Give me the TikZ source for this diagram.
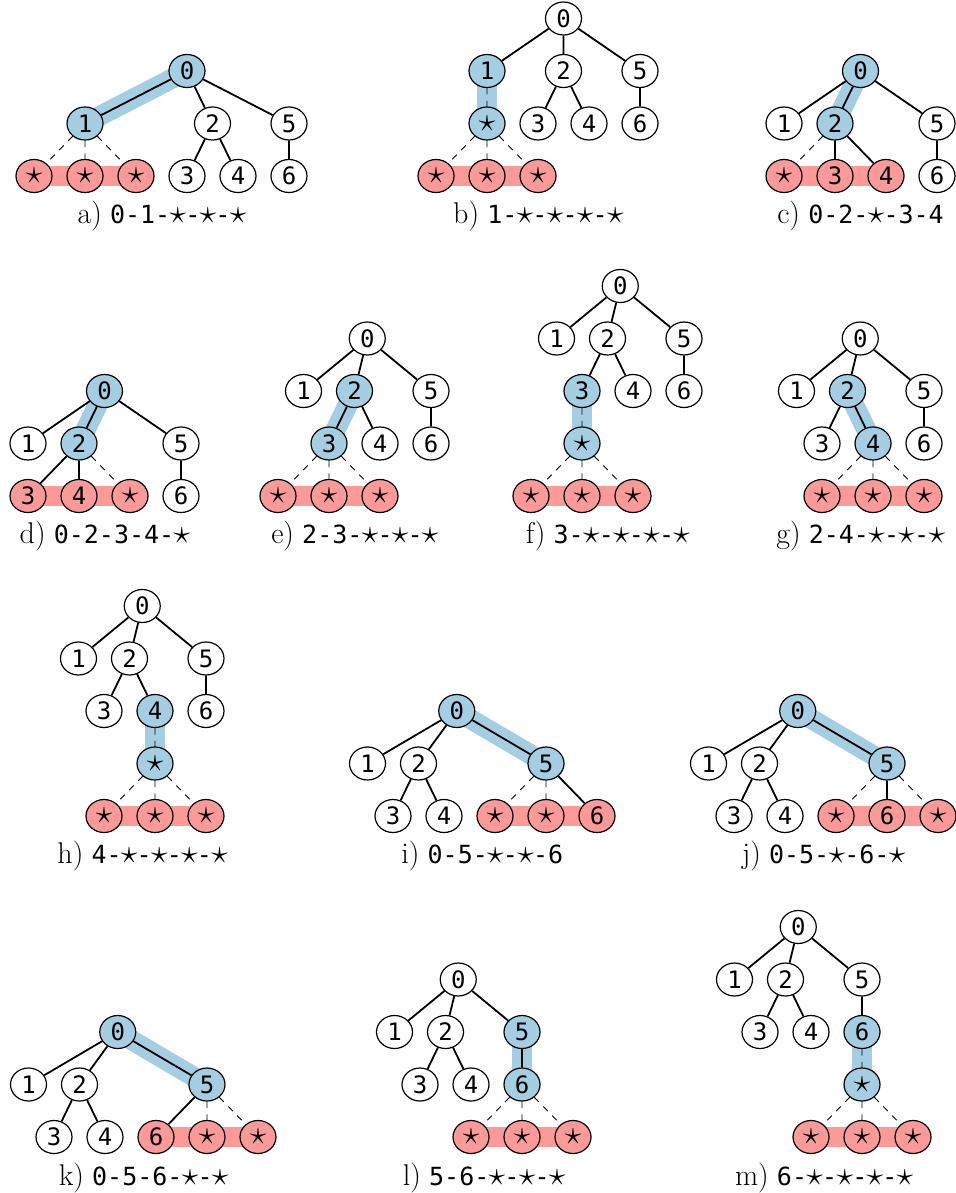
\documentclass[tikz,border=0pt]{standalone}
\usepackage{graphicx}
\usepackage{fontspec}
\setmonofont{DejaVu Sans Mono}
\usetikzlibrary{shapes.geometric}

\definecolor{hlblue}{HTML}{A6CEE3}
\definecolor{hlred}{HTML}{FB9A99}

\newcommand{\nodestar}{\scalebox{1.4}{$\star$}}
\newcommand{\cellstar}{\makebox[0.602em]{\scalebox{1.4}{$\star$}}}
\newcommand{\caplabel}[2]{{\fontsize{15}{18}\selectfont #1)}~\texttt{#2}}

\pgfdeclarelayer{bands}
\pgfdeclarelayer{links}
\pgfsetlayers{bands,links,main}

\tikzset{
  nd/.style={ellipse, draw, line width=0.6pt, minimum width=18pt,
    minimum height=16.5pt, inner sep=0pt, fill=white,
    font=\ttfamily\fontsize{12}{14}\selectfont},
  bn/.style={nd, fill=hlblue},
  rn/.style={nd, fill=hlred},
  tr/.style={line width=0.9pt},
  dl/.style={line width=0.45pt, dash pattern=on 3.2pt off 3.2pt},
  bb/.style={line width=10pt, hlblue},
  rb/.style={line width=10pt, hlred},
  captxt/.style={anchor=base, inner sep=0pt, font=\fontsize{12.5}{15}\selectfont},
}

\begin{document}
\begin{tikzpicture}[x=1pt,y=1pt]
\useasboundingbox (0,0) rectangle (477.5,-596.5);

% ---------- a) ----------
\begin{scope}[shift={(17pt,-88pt)},x=12.75pt,y=26.25pt]
\node[bn] (a0) at (6,2) {0};
\node[bn] (a1) at (2,1) {1};
\node[nd] (a2) at (7,1) {2};
\node[nd] (a5) at (10,1) {5};
\node[rn] (aP) at (0,0) {\nodestar};
\node[rn] (aQ) at (2,0) {\nodestar};
\node[rn] (aR) at (4,0) {\nodestar};
\node[nd] (a3) at (6,0) {3};
\node[nd] (a4) at (8,0) {4};
\node[nd] (a6) at (10,0) {6};
\node[captxt] (acap) at (5,-0.914) {\caplabel{a}{0-1-\cellstar-\cellstar-\cellstar}};
\begin{pgfonlayer}{bands}
\draw[bb] (a0.center) -- (a1.center);
\draw[rb] (aP.center) -- (aR.center);
\end{pgfonlayer}
\begin{pgfonlayer}{links}
\draw[tr] (a0) -- (a1) (a0) -- (a2) (a0) -- (a5) (a2) -- (a3) (a2) -- (a4) (a5) -- (a6);
\draw[dl] (a1) -- (aP) (a1) -- (aQ) (a1) -- (aR);
\end{pgfonlayer}
\end{scope}

% ---------- b) ----------
\begin{scope}[shift={(218pt,-88pt)},x=12.75pt,y=26.25pt]
\node[nd] (b0) at (5,3) {0};
\node[bn] (b1) at (2,2) {1};
\node[nd] (b2) at (5,2) {2};
\node[nd] (b5) at (8,2) {5};
\node[bn] (bX) at (2,1) {\nodestar};
\node[nd] (b3) at (4,1) {3};
\node[nd] (b4) at (6,1) {4};
\node[nd] (b6) at (8,1) {6};
\node[rn] (bP) at (0,0) {\nodestar};
\node[rn] (bQ) at (2,0) {\nodestar};
\node[rn] (bR) at (4,0) {\nodestar};
\node[captxt] (bcap) at (4,-0.914) {\caplabel{b}{1-\cellstar-\cellstar-\cellstar-\cellstar}};
\begin{pgfonlayer}{bands}
\draw[bb] (b1.center) -- (bX.center);
\draw[rb] (bP.center) -- (bR.center);
\end{pgfonlayer}
\begin{pgfonlayer}{links}
\draw[tr] (b0) -- (b1) (b0) -- (b2) (b0) -- (b5) (b2) -- (b3) (b2) -- (b4) (b5) -- (b6);
\draw[dl] (b1) -- (bX) (bX) -- (bP) (bX) -- (bQ) (bX) -- (bR);
\end{pgfonlayer}
\end{scope}

% ---------- c) ----------
\begin{scope}[shift={(392pt,-88pt)},x=12.75pt,y=26.25pt]
\node[bn] (c0) at (3,2) {0};
\node[nd] (c1) at (0,1) {1};
\node[bn] (c2) at (2,1) {2};
\node[nd] (c5) at (6,1) {5};
\node[rn] (cP) at (0,0) {\nodestar};
\node[rn] (c3) at (2,0) {3};
\node[rn] (c4) at (4,0) {4};
\node[nd] (c6) at (6,0) {6};
\node[captxt] (ccap) at (3,-0.914) {\caplabel{c}{0-2-\cellstar-3-4}};
\begin{pgfonlayer}{bands}
\draw[bb] (c0.center) -- (c2.center);
\draw[rb] (cP.center) -- (c4.center);
\end{pgfonlayer}
\begin{pgfonlayer}{links}
\draw[tr] (c0) -- (c1) (c0) -- (c2) (c0) -- (c5) (c2) -- (c3) (c2) -- (c4) (c5) -- (c6);
\draw[dl] (c2) -- (cP);
\end{pgfonlayer}
\end{scope}

% ---------- d) ----------
\begin{scope}[shift={(14pt,-248pt)},x=12.75pt,y=26.25pt]
\node[bn] (d0) at (3,2) {0};
\node[nd] (d1) at (0,1) {1};
\node[bn] (d2) at (2,1) {2};
\node[nd] (d5) at (6,1) {5};
\node[rn] (d3) at (0,0) {3};
\node[rn] (d4) at (2,0) {4};
\node[rn] (dP) at (4,0) {\nodestar};
\node[nd] (d6) at (6,0) {6};
\node[captxt] (dcap) at (3,-0.914) {\caplabel{d}{0-2-3-4-\cellstar}};
\begin{pgfonlayer}{bands}
\draw[bb] (d0.center) -- (d2.center);
\draw[rb] (d3.center) -- (dP.center);
\end{pgfonlayer}
\begin{pgfonlayer}{links}
\draw[tr] (d0) -- (d1) (d0) -- (d2) (d0) -- (d5) (d2) -- (d3) (d2) -- (d4) (d5) -- (d6);
\draw[dl] (d2) -- (dP);
\end{pgfonlayer}
\end{scope}

% ---------- e) ----------
\begin{scope}[shift={(139pt,-248pt)},x=12.75pt,y=26.25pt]
\node[nd] (e0) at (3.5,3) {0};
\node[nd] (e1) at (1,2) {1};
\node[bn] (e2) at (3,2) {2};
\node[nd] (e5) at (6,2) {5};
\node[bn] (e3) at (2,1) {3};
\node[nd] (e4) at (4,1) {4};
\node[nd] (e6) at (6,1) {6};
\node[rn] (eP) at (0,0) {\nodestar};
\node[rn] (eQ) at (2,0) {\nodestar};
\node[rn] (eR) at (4,0) {\nodestar};
\node[captxt] (ecap) at (3,-0.914) {\caplabel{e}{2-3-\cellstar-\cellstar-\cellstar}};
\begin{pgfonlayer}{bands}
\draw[bb] (e2.center) -- (e3.center);
\draw[rb] (eP.center) -- (eR.center);
\end{pgfonlayer}
\begin{pgfonlayer}{links}
\draw[tr] (e0) -- (e1) (e0) -- (e2) (e0) -- (e5) (e2) -- (e3) (e2) -- (e4) (e5) -- (e6);
\draw[dl] (e3) -- (eP) (e3) -- (eQ) (e3) -- (eR);
\end{pgfonlayer}
\end{scope}

% ---------- f) ----------
\begin{scope}[shift={(265.5pt,-248pt)},x=12.75pt,y=26.25pt]
\node[nd] (f0) at (3.5,4) {0};
\node[nd] (f1) at (1,3) {1};
\node[nd] (f2) at (3,3) {2};
\node[nd] (f5) at (6,3) {5};
\node[bn] (f3) at (2,2) {3};
\node[nd] (f4) at (4,2) {4};
\node[nd] (f6) at (6,2) {6};
\node[bn] (fX) at (2,1) {\nodestar};
\node[rn] (fP) at (0,0) {\nodestar};
\node[rn] (fQ) at (2,0) {\nodestar};
\node[rn] (fR) at (4,0) {\nodestar};
\node[captxt] (fcap) at (3,-0.914) {\caplabel{f}{3-\cellstar-\cellstar-\cellstar-\cellstar}};
\begin{pgfonlayer}{bands}
\draw[bb] (f3.center) -- (fX.center);
\draw[rb] (fP.center) -- (fR.center);
\end{pgfonlayer}
\begin{pgfonlayer}{links}
\draw[tr] (f0) -- (f1) (f0) -- (f2) (f0) -- (f5) (f2) -- (f3) (f2) -- (f4) (f5) -- (f6);
\draw[dl] (f3) -- (fX) (fX) -- (fP) (fX) -- (fQ) (fX) -- (fR);
\end{pgfonlayer}
\end{scope}

% ---------- g) ----------
\begin{scope}[shift={(411pt,-248pt)},x=12.75pt,y=26.25pt]
\node[nd] (g0) at (1.5,3) {0};
\node[nd] (g1) at (-1,2) {1};
\node[bn] (g2) at (1,2) {2};
\node[nd] (g5) at (4,2) {5};
\node[nd] (g3) at (0,1) {3};
\node[bn] (g4) at (2,1) {4};
\node[nd] (g6) at (4,1) {6};
\node[rn] (gP) at (0,0) {\nodestar};
\node[rn] (gQ) at (2,0) {\nodestar};
\node[rn] (gR) at (4,0) {\nodestar};
\node[captxt] (gcap) at (1.5,-0.914) {\caplabel{g}{2-4-\cellstar-\cellstar-\cellstar}};
\begin{pgfonlayer}{bands}
\draw[bb] (g2.center) -- (g4.center);
\draw[rb] (gP.center) -- (gR.center);
\end{pgfonlayer}
\begin{pgfonlayer}{links}
\draw[tr] (g0) -- (g1) (g0) -- (g2) (g0) -- (g5) (g2) -- (g3) (g2) -- (g4) (g5) -- (g6);
\draw[dl] (g4) -- (gP) (g4) -- (gQ) (g4) -- (gR);
\end{pgfonlayer}
\end{scope}

% ---------- h) ----------
\begin{scope}[shift={(52pt,-408pt)},x=12.75pt,y=26.25pt]
\node[nd] (h0) at (1.5,4) {0};
\node[nd] (h1) at (-1,3) {1};
\node[nd] (h2) at (1,3) {2};
\node[nd] (h5) at (4,3) {5};
\node[nd] (h3) at (0,2) {3};
\node[bn] (h4) at (2,2) {4};
\node[nd] (h6) at (4,2) {6};
\node[bn] (hX) at (2,1) {\nodestar};
\node[rn] (hP) at (0,0) {\nodestar};
\node[rn] (hQ) at (2,0) {\nodestar};
\node[rn] (hR) at (4,0) {\nodestar};
\node[captxt] (hcap) at (1.5,-0.914) {\caplabel{h}{4-\cellstar-\cellstar-\cellstar-\cellstar}};
\begin{pgfonlayer}{bands}
\draw[bb] (h4.center) -- (hX.center);
\draw[rb] (hP.center) -- (hR.center);
\end{pgfonlayer}
\begin{pgfonlayer}{links}
\draw[tr] (h0) -- (h1) (h0) -- (h2) (h0) -- (h5) (h2) -- (h3) (h2) -- (h4) (h5) -- (h6);
\draw[dl] (h4) -- (hX) (hX) -- (hP) (hX) -- (hQ) (hX) -- (hR);
\end{pgfonlayer}
\end{scope}

% ---------- i) ----------
\begin{scope}[shift={(196.5pt,-408pt)},x=12.75pt,y=26.25pt]
\node[bn] (i0) at (2.5,2) {0};
\node[nd] (i1) at (-1,1) {1};
\node[nd] (i2) at (1,1) {2};
\node[bn] (i5) at (6,1) {5};
\node[nd] (i3) at (0,0) {3};
\node[nd] (i4) at (2,0) {4};
\node[rn] (iP) at (4,0) {\nodestar};
\node[rn] (iQ) at (6,0) {\nodestar};
\node[rn] (i6) at (8,0) {6};
\node[captxt] (icap) at (3.5,-0.914) {\caplabel{i}{0-5-\cellstar-\cellstar-6}};
\begin{pgfonlayer}{bands}
\draw[bb] (i0.center) -- (i5.center);
\draw[rb] (iP.center) -- (i6.center);
\end{pgfonlayer}
\begin{pgfonlayer}{links}
\draw[tr] (i0) -- (i1) (i0) -- (i2) (i0) -- (i5) (i2) -- (i3) (i2) -- (i4) (i5) -- (i6);
\draw[dl] (i5) -- (iP) (i5) -- (iQ);
\end{pgfonlayer}
\end{scope}

% ---------- j) ----------
\begin{scope}[shift={(367pt,-408pt)},x=12.75pt,y=26.25pt]
\node[bn] (j0) at (2.5,2) {0};
\node[nd] (j1) at (-1,1) {1};
\node[nd] (j2) at (1,1) {2};
\node[bn] (j5) at (6,1) {5};
\node[nd] (j3) at (0,0) {3};
\node[nd] (j4) at (2,0) {4};
\node[rn] (jP) at (4,0) {\nodestar};
\node[rn] (j6) at (6,0) {6};
\node[rn] (jQ) at (8,0) {\nodestar};
\node[captxt] (jcap) at (3.5,-0.914) {\caplabel{j}{0-5-\cellstar-6-\cellstar}};
\begin{pgfonlayer}{bands}
\draw[bb] (j0.center) -- (j5.center);
\draw[rb] (jP.center) -- (jQ.center);
\end{pgfonlayer}
\begin{pgfonlayer}{links}
\draw[tr] (j0) -- (j1) (j0) -- (j2) (j0) -- (j5) (j2) -- (j3) (j2) -- (j4) (j5) -- (j6);
\draw[dl] (j5) -- (jP) (j5) -- (jQ);
\end{pgfonlayer}
\end{scope}

% ---------- k) ----------
\begin{scope}[shift={(27pt,-568.5pt)},x=12.75pt,y=26.25pt]
\node[bn] (k0) at (2.5,2) {0};
\node[nd] (k1) at (-1,1) {1};
\node[nd] (k2) at (1,1) {2};
\node[bn] (k5) at (6,1) {5};
\node[nd] (k3) at (0,0) {3};
\node[nd] (k4) at (2,0) {4};
\node[rn] (k6) at (4,0) {6};
\node[rn] (kP) at (6,0) {\nodestar};
\node[rn] (kQ) at (8,0) {\nodestar};
\node[captxt] (kcap) at (3.5,-0.914) {\caplabel{k}{0-5-6-\cellstar-\cellstar}};
\begin{pgfonlayer}{bands}
\draw[bb] (k0.center) -- (k5.center);
\draw[rb] (k6.center) -- (kQ.center);
\end{pgfonlayer}
\begin{pgfonlayer}{links}
\draw[tr] (k0) -- (k1) (k0) -- (k2) (k0) -- (k5) (k2) -- (k3) (k2) -- (k4) (k5) -- (k6);
\draw[dl] (k5) -- (kP) (k5) -- (kQ);
\end{pgfonlayer}
\end{scope}

% ---------- l) ----------
\begin{scope}[shift={(210pt,-568.5pt)},x=12.75pt,y=26.25pt]
\node[nd] (l0) at (1.5,3) {0};
\node[nd] (l1) at (-1,2) {1};
\node[nd] (l2) at (1,2) {2};
\node[bn] (l5) at (4,2) {5};
\node[nd] (l3) at (0,1) {3};
\node[nd] (l4) at (2,1) {4};
\node[bn] (l6) at (4,1) {6};
\node[rn] (lP) at (2,0) {\nodestar};
\node[rn] (lQ) at (4,0) {\nodestar};
\node[rn] (lR) at (6,0) {\nodestar};
\node[captxt] (lcap) at (2.5,-0.914) {\caplabel{l}{5-6-\cellstar-\cellstar-\cellstar}};
\begin{pgfonlayer}{bands}
\draw[bb] (l5.center) -- (l6.center);
\draw[rb] (lP.center) -- (lR.center);
\end{pgfonlayer}
\begin{pgfonlayer}{links}
\draw[tr] (l0) -- (l1) (l0) -- (l2) (l0) -- (l5) (l2) -- (l3) (l2) -- (l4) (l5) -- (l6);
\draw[dl] (l6) -- (lP) (l6) -- (lQ) (l6) -- (lR);
\end{pgfonlayer}
\end{scope}

% ---------- m) ----------
\begin{scope}[shift={(380pt,-568.5pt)},x=12.75pt,y=26.25pt]
\node[nd] (m0) at (1.5,4) {0};
\node[nd] (m1) at (-1,3) {1};
\node[nd] (m2) at (1,3) {2};
\node[nd] (m5) at (4,3) {5};
\node[nd] (m3) at (0,2) {3};
\node[nd] (m4) at (2,2) {4};
\node[bn] (m6) at (4,2) {6};
\node[bn] (mX) at (4,1) {\nodestar};
\node[rn] (mP) at (2,0) {\nodestar};
\node[rn] (mQ) at (4,0) {\nodestar};
\node[rn] (mR) at (6,0) {\nodestar};
\node[captxt] (mcap) at (2.5,-0.914) {\caplabel{m}{6-\cellstar-\cellstar-\cellstar-\cellstar}};
\begin{pgfonlayer}{bands}
\draw[bb] (m6.center) -- (mX.center);
\draw[rb] (mP.center) -- (mR.center);
\end{pgfonlayer}
\begin{pgfonlayer}{links}
\draw[tr] (m0) -- (m1) (m0) -- (m2) (m0) -- (m5) (m2) -- (m3) (m2) -- (m4) (m5) -- (m6);
\draw[dl] (m6) -- (mX) (mX) -- (mP) (mX) -- (mQ) (mX) -- (mR);
\end{pgfonlayer}
\end{scope}

\end{tikzpicture}
\end{document}
